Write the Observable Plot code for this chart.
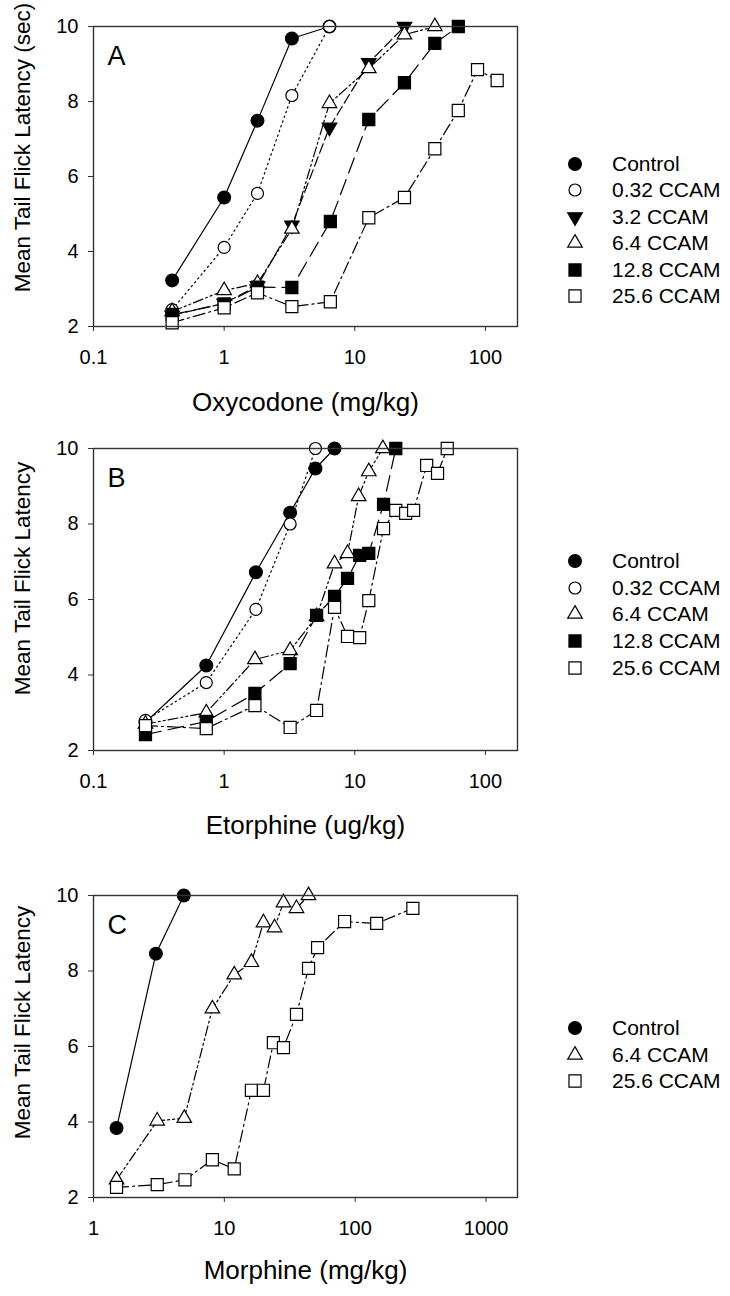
<!DOCTYPE html>
<html><head><meta charset="utf-8">
<script src="https://cdn.jsdelivr.net/npm/d3@7"></script>
<script src="https://cdn.jsdelivr.net/npm/@observablehq/plot@0.6"></script>
<style>
body{margin:0;background:#fff}
#root{position:relative;width:730px;height:1296px;background:#fff;font-family:"Liberation Sans",Arial,sans-serif;overflow:hidden}
.panel{position:absolute;left:0}
.litem{position:absolute;height:26px;display:flex;align-items:center;white-space:nowrap;font-size:21px;color:#000}
.litem svg{margin-right:24px}
</style></head><body><div id="root"></div>
<script>
// ---------- Panel A: Oxycodone ----------
const oxyControlDose = [0.4, 1, 1.8, 3.3, 6.4];
const oxyControlLat  = [3.23, 5.44, 7.49, 9.68, 10.0];
const oxy032Dose = [0.4, 1, 1.8, 3.3, 6.4];
const oxy032Lat  = [2.45, 4.11, 5.55, 8.16, 10.0];
const oxy32Dose = [0.4, 1, 1.8, 3.3, 6.4, 12.8, 24];
const oxy32Lat  = [2.3, 2.62, 3.08, 4.7, 7.31, 9.03, 10.0];
const oxy64Dose = [0.4, 1, 1.8, 3.3, 6.4, 12.8, 24, 41];
const oxy64Lat  = [2.4, 2.96, 3.15, 4.6, 7.95, 8.88, 9.78, 10.0];
const oxy128Dose = [0.4, 1, 1.8, 3.3, 6.5, 12.8, 24, 41, 62];
const oxy128Lat  = [2.32, 2.6, 3.05, 3.04, 4.8, 7.52, 8.5, 9.55, 10.0];
const oxy256Dose = [0.4, 1, 1.8, 3.3, 6.5, 12.8, 24, 41, 62, 87, 123];
const oxy256Lat  = [2.1, 2.5, 2.9, 2.53, 2.66, 4.9, 5.44, 6.74, 7.76, 8.85, 8.56];

// ---------- Panel B: Etorphine ----------
const etoControlDose = [0.25, 0.73, 1.75, 3.2, 5.0, 7.0];
const etoControlLat  = [2.75, 4.25, 6.72, 8.3, 9.47, 10.0];
const eto032Dose = [0.25, 0.73, 1.75, 3.2, 5.0];
const eto032Lat  = [2.8, 3.8, 5.74, 8.0, 10.0];
const eto64Dose = [0.25, 0.73, 1.72, 3.2, 5.1, 7.0, 8.8, 10.7, 12.8, 16.4];
const eto64Lat  = [2.7, 3.0, 4.41, 4.65, 5.55, 6.95, 7.22, 8.73, 9.39, 10.0];
const eto128Dose = [0.25, 0.73, 1.72, 3.2, 5.1, 7.0, 8.8, 10.9, 12.8, 16.6, 20.6];
const eto128Lat  = [2.42, 2.77, 3.51, 4.3, 5.58, 6.08, 6.56, 7.17, 7.22, 8.52, 10.0];
const eto256Dose = [0.25, 0.73, 1.72, 3.2, 5.1, 7.0, 8.8, 10.9, 12.8, 16.6, 20.6, 24.5, 28.2, 35.5, 43, 51];
const eto256Lat  = [2.66, 2.58, 3.19, 2.61, 3.06, 5.79, 5.02, 4.99, 5.97, 7.88, 8.36, 8.28, 8.36, 9.55, 9.34, 10.0];

// ---------- Panel C: Morphine ----------
const morControlDose = [1.5, 3.0, 4.9];
const morControlLat  = [3.84, 8.46, 10.0];
const mor64Dose = [1.5, 3.07, 4.94, 8.1, 11.9, 16.1, 19.9, 24.2, 28.3, 35.6, 44];
const mor64Lat  = [2.47, 4.03, 4.1, 7.0, 7.9, 8.23, 9.28, 9.15, 9.81, 9.66, 10.0];
const mor256Dose = [1.5, 3.07, 5.0, 8.1, 11.9, 16.1, 19.9, 23.7, 28.3, 35.6, 44, 51.6, 83, 146, 276];
const mor256Lat  = [2.27, 2.34, 2.47, 3.0, 2.76, 4.84, 4.84, 6.1, 5.97, 6.85, 8.07, 8.62, 9.31, 9.26, 9.66];

// ---------- Labels / ticks ----------
const yTicks = [2, 4, 6, 8, 10];
const xTicksAB = [0.1, 1, 10, 100];
const xTicksC = [1, 10, 100, 1000];
const yTitleA = "Mean Tail Flick Latency (sec)";
const yTitleBC = "Mean Tail Flick Latency";
const xTitleA = "Oxycodone (mg/kg)";
const xTitleB = "Etorphine (ug/kg)";
const xTitleC = "Morphine (mg/kg)";

// ---------- Styles ----------
const triangleDown = {
  draw(context, size) {
    const s3 = Math.sqrt(3);
    const y = -Math.sqrt(size / (s3 * 3));
    context.moveTo(0, -y * 2);
    context.lineTo(-s3 * y, y);
    context.lineTo(s3 * y, y);
    context.closePath();
  }
};
const styles = {
  "Control":   {symbol: d3.symbolCircle, fill: "#000", r: 6.4, dash: null},
  "0.32 CCAM": {symbol: d3.symbolCircle, fill: "#fff", r: 6.0, dash: "1.5,3.5"},
  "3.2 CCAM":  {symbol: triangleDown,    fill: "#000", r: 5.4, dash: "10,4"},
  "6.4 CCAM":  {symbol: d3.symbolTriangle, fill: "#fff", r: 5.4, dash: "10,3,2,3,2,3"},
  "12.8 CCAM": {symbol: d3.symbolSquare, fill: "#000", r: 6.8, dash: "16,7"},
  "25.6 CCAM": {symbol: d3.symbolSquare, fill: "#fff", r: 6.8, dash: "12,4,2,4"}
};

const panels = [
  {top: 0, height: 430, marginTop: 26, marginBottom: 104, domain: [0.1, 176], ticks: xTicksAB,
   letter: "A", xTitle: xTitleA, yTitle: yTitleA, yTitleDy: -29, xTitleDy: 76,
   legendTop: 164, legendStep: 26.4,
   series: [["Control", oxyControlDose, oxyControlLat], ["0.32 CCAM", oxy032Dose, oxy032Lat],
            ["3.2 CCAM", oxy32Dose, oxy32Lat], ["6.4 CCAM", oxy64Dose, oxy64Lat],
            ["12.8 CCAM", oxy128Dose, oxy128Lat], ["25.6 CCAM", oxy256Dose, oxy256Lat]]},
  {top: 430, height: 410, marginTop: 18, marginBottom: 90, domain: [0.1, 176], ticks: xTicksAB,
   letter: "B", xTitle: xTitleB, yTitle: yTitleBC, yTitleDy: -21, xTitleDy: 75,
   legendTop: 561, legendStep: 26.7,
   series: [["Control", etoControlDose, etoControlLat], ["0.32 CCAM", eto032Dose, eto032Lat],
            ["6.4 CCAM", eto64Dose, eto64Lat], ["12.8 CCAM", eto128Dose, eto128Lat],
            ["25.6 CCAM", eto256Dose, eto256Lat]]},
  {top: 840, height: 456, marginTop: 55, marginBottom: 99, domain: [1, 1740], ticks: xTicksC,
   letter: "C", xTitle: xTitleC, yTitle: yTitleBC, yTitleDy: -24, xTitleDy: 73,
   legendTop: 1028, legendStep: 26.6,
   series: [["Control", morControlDose, morControlLat], ["6.4 CCAM", mor64Dose, mor64Lat],
            ["25.6 CCAM", mor256Dose, mor256Lat]]}
];

const root = document.getElementById("root");
const FONT = '"Liberation Sans", Arial, sans-serif';

for (const p of panels) {
  const marks = [];
  for (const [name, xs, ys] of p.series) {
    const rows = xs.map((x, i) => ({dose: x, lat: ys[i]}));
    const st = styles[name];
    marks.push(Plot.line(rows, {x: "dose", y: "lat", stroke: "#000", strokeWidth: 1.2,
      strokeDasharray: st.dash || undefined}));
    marks.push(Plot.dot(rows, {x: "dose", y: "lat", symbol: st.symbol, r: st.r,
      fill: st.fill, stroke: "#000", strokeWidth: 1.2}));
  }
  const chart = Plot.plot({
    width: 730, height: p.height,
    marginLeft: 93, marginRight: 213, marginTop: p.marginTop, marginBottom: p.marginBottom,
    style: {fontFamily: FONT, background: "#fff", color: "#000", overflow: "visible"},
    x: {type: "log", domain: p.domain},
    y: {domain: [2, 10]},
    marks: [
      Plot.axisX({ticks: p.ticks, tickFormat: d => String(d), tickSize: 5, tickPadding: 18,
        fontSize: 20, label: null, stroke: "#333"}),
      Plot.axisY({ticks: yTicks, tickSize: 5, tickPadding: 10, fontSize: 20, label: null, stroke: "#333"}),
      ...marks,
      Plot.frame({stroke: "#333", strokeWidth: 1.4}),
      Plot.text([p.letter], {frameAnchor: "top-left", dx: 14, dy: 19, fontSize: 27,
        lineAnchor: "top", textAnchor: "start", fill: "#000"}),
      Plot.text([p.xTitle], {frameAnchor: "bottom", dy: p.xTitleDy, fontSize: 26,
        lineAnchor: "middle", textAnchor: "middle", fill: "#000"}),
      Plot.text([p.yTitle], {frameAnchor: "left", dx: -71, dy: p.yTitleDy, rotate: -90,
        fontSize: 22.5, lineAnchor: "middle", textAnchor: "middle", fill: "#000"})
    ]
  });
  chart.classList.add("panel");
  chart.style.top = p.top + "px";
  root.appendChild(chart);

  // legend (HTML, built from the series names)
  p.series.forEach(([name], i) => {
    const st = styles[name];
    const item = document.createElement("div");
    item.className = "litem";
    item.style.left = "562px";
    item.style.top = (p.legendTop + i * p.legendStep - 13) + "px";
    const size = Math.PI * st.r * st.r;
    const path = d3.symbol(st.symbol, size)();
    item.innerHTML = `<svg width="26" height="26" viewBox="-13 -13 26 26"><path d="${path}" fill="${st.fill}" stroke="#000" stroke-width="1.2"/></svg><span>${name}</span>`;
    root.appendChild(item);
  });
}
</script></body></html>
